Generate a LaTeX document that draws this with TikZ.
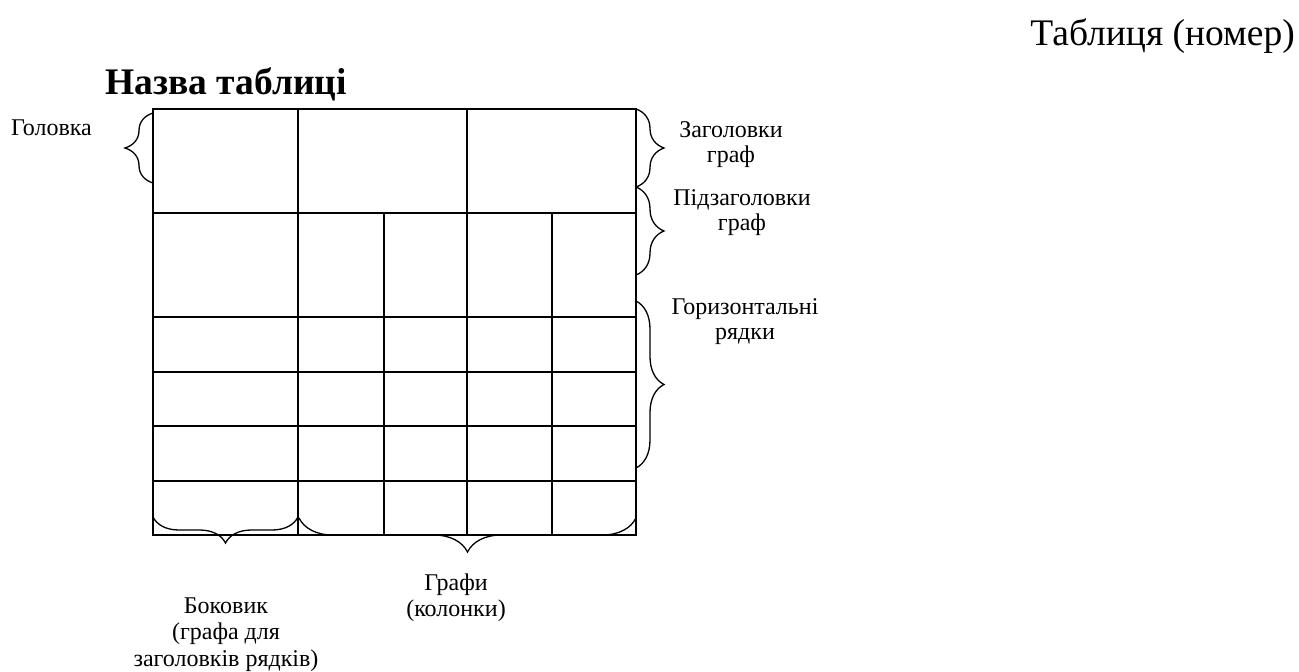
\documentclass[tikz,border=0pt]{standalone}
\usepackage{fontspec}
\setmainfont{Liberation Serif}
\usetikzlibrary{decorations.pathreplacing}
\begin{document}
\begin{tikzpicture}[x=1pt,y=-1pt,
  grid/.style={line width=2pt,line cap=rect},
  brc/.style={line width=1.3pt,decorate,decoration={brace,amplitude=#1}},
  lbl/.style={font=\fontsize{24}{25}\selectfont,align=center,inner sep=0pt},
  ttl/.style={font=\fontsize{37.5}{42}\selectfont,inner sep=0pt}]
\useasboundingbox (0,0) rectangle (1299,672);
% title texts
\node[ttl,anchor=base east] (num) at (1295,45) {Таблиця (номер)};
\node[ttl,anchor=base west,font=\fontsize{37.5}{42}\selectfont\bfseries] (name) at (105,94) {Назва таблиці};
% table coordinates
\coordinate (tl) at (153,109);
\coordinate (tr) at (636,109);
\coordinate (bl) at (153,535);
\coordinate (br) at (636,535);
% horizontal lines
\foreach \y in {109,213,317,372,426,481,535}
  \draw[grid] (153,\y) -- (636,\y);
% vertical lines
\foreach \x in {153,298,467,636}
  \draw[grid] (\x,109) -- (\x,535);
\foreach \x in {384,552}
  \draw[grid] (\x,213) -- (\x,535);
% braces
\coordinate (h1) at (153,183);
\coordinate (h2) at (153,113);
\draw[brc=28pt] (h1) -- (h2);
\coordinate (r1) at (636,109);
\coordinate (r2) at (636,187);
\coordinate (r3) at (636,275);
\coordinate (r4) at (636,301);
\coordinate (r5) at (636,468);
\draw[brc=28pt] (r1) -- (r2);
\draw[brc=28pt] (r2) -- (r3);
\draw[brc=28pt] (r4) -- (r5);
\coordinate (b1) at (298,517);
\coordinate (b2) at (153,517);
\coordinate (b3) at (636,518);
\coordinate (b4) at (299,518);
\draw[brc=26pt] (b1) -- (b2);
\draw[brc=34pt] (b3) -- (b4);
% labels (base anchor = baseline of last line)
\node[lbl,anchor=base east] (head) at (92,135) {Головка};
\node[lbl,anchor=base] (zag) at (731,162) {Заголовки\\граф};
\node[lbl,anchor=base] (pidzag) at (742,230) {Підзаголовки\\граф};
\node[lbl,anchor=base] (horiz) at (745,339) {Горизонтальні\\рядки};
\node[lbl,anchor=base,font=\fontsize{24}{26.5}\selectfont] (grafy) at (456,616.5) {Графи\\(колонки)};
\node[lbl,anchor=base,font=\fontsize{24}{26.5}\selectfont] (bokovyk) at (226,666) {Боковик\\(графа для\\заголовків рядків)};
\end{tikzpicture}
\end{document}
